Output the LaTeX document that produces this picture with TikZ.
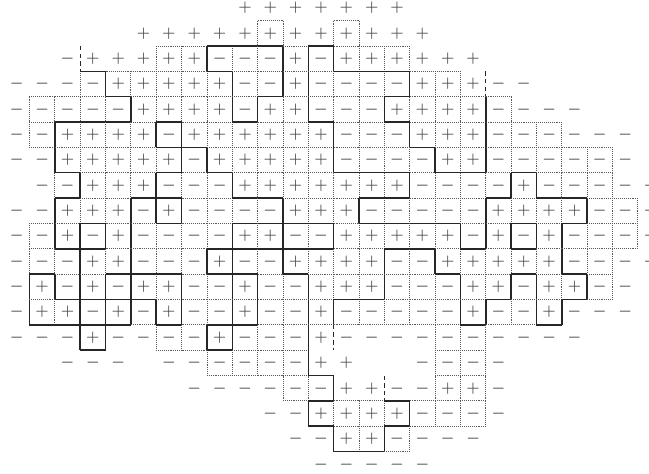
\documentclass[tikz,border=0pt]{standalone}
\makeatletter
% one string per row of cells: . empty, p/m plus/minus outside, P/M plus/minus inside
\def\gridrow#1#2{\count@=0 \def\gr@row{#1}\gr@next#2\@nil}
\def\gr@next#1{\ifx#1\@nil\else
  \expandafter\xdef\csname cell@\gr@row @\the\count@\endcsname{#1}%
  \advance\count@ 1 \expandafter\gr@next\fi}
\def\sg@P{1}\def\sg@p{1}\def\sg@M{2}\def\sg@m{2}
\expandafter\def\csname sg@.\endcsname{0}
\def\ac@P{1}\def\ac@M{1}\def\ac@p{0}\def\ac@m{0}
\expandafter\def\csname ac@.\endcsname{0}
\def\getcell#1#2#3{%
  \ifcsname cell@#1@#2\endcsname
    \edef\gc@c{\csname cell@#1@#2\endcsname}%
  \else\def\gc@c{.}\fi
  \expandafter\edef\csname sg#3\endcsname{\csname sg@\gc@c\endcsname}%
  \expandafter\edef\csname ac#3\endcsname{\csname ac@\gc@c\endcsname}}
% edge kind: 0 none, 1 bond, 2 wall, 3 cut
\def\edgekind#1#2#3{%
  \ifcsname ov@#1@#2@#3\endcsname
    \edef\ek{\csname ov@#1@#2@#3\endcsname}%
  \else
    \def\ek{0}%
    \ifnum\sgA>0 \ifnum\sgB>0 \ifnum\numexpr\acA+\acB\relax>0
      \ifnum\sgA=\sgB\def\ek{1}\else\def\ek{2}\fi
    \fi\fi\fi
  \fi}
\def\setedge#1#2#3#4{\expandafter\def\csname ov@#1@#2@#3\endcsname{#4}}
\makeatother

\gridrow{0}{.........ppppppp}
\gridrow{1}{.....pppppPppPppp}
\gridrow{2}{..mpppPPMMMPMPPPppp}
\gridrow{3}{mmmMPPPPPMMPMMMMPPpmm}
\gridrow{4}{mMMMMPPPPMPPMMMPPPPMmmm}
\gridrow{5}{mMPPPPMPPPPPPMMMPPPMMMmmm}
\gridrow{6}{mmPPPPPMPPPPPMMMMPPMMMMMm}
\gridrow{7}{.mMPPPMMMPPPPPPPMMMMPMMMmm}
\gridrow{8}{mmPPPMPMMMMPPPMMMMMPPPPMMm}
\gridrow{9}{mMPMPMMMMPPMMPPPPPMPMPMMMm}
\gridrow{10}{mMMPPMMMPMMPPPPMMPPPPPMMmm}
\gridrow{11}{mPMPMPPMMPMMPPPMMMPPMPPMm}
\gridrow{12}{mPPMPMPMMPMMPMMMMMPMMPmmm}
\gridrow{13}{mmmPmmMMPMMMpmmmmMMmmmm}
\gridrow{14}{..mmm.mmMMMMpp..mMMm}
\gridrow{15}{.......mmmmMMppmmPPm}
\gridrow{16}{..........mmPPPPMMMm}
\gridrow{17}{...........mmPPMmmm}
\gridrow{18}{............mmmmm}

% edges drawn otherwise than the rule gives
\setedge{V}{2}{3}{3}
\setedge{V}{3}{19}{3}
\setedge{V}{13}{13}{3}
\setedge{V}{15}{15}{3}
\setedge{H}{15}{17}{1}
\setedge{H}{15}{18}{1}
\setedge{H}{16}{17}{1}
\setedge{H}{16}{18}{1}
\setedge{V}{15}{17}{1}
\setedge{V}{15}{19}{1}

\begin{document}
\begin{tikzpicture}[x=0.7cm,y=0.7cm,
    sym/.style={inner sep=0pt,text=black!70,
      font=\fontsize{13}{15}\selectfont\boldmath},
    bond/.style={black!65,line width=0.6pt,dash pattern=on 0.7pt off 0.8pt},
    wall/.style={black!85,line width=1.2pt},
    cut/.style={black!85,line width=1pt,dash pattern=on 3.5pt off 2.5pt}]
  \clip (-0.663,-18.384) rectangle (24.94,0.314);
  \foreach \i in {0,...,18}{
    \foreach \j in {0,...,25}{
      \getcell{\i}{\j}{A}
      \ifcase\sgA\or
        \node[sym] (s-\i-\j) at (\j,-\i) {$+$};
      \or
        \node[sym] (s-\i-\j) at (\j,-\i) {$-$};
      \fi
      % left edge of the cell
      \getcell{\i}{\the\numexpr\j-1\relax}{B}
      \edgekind{V}{\i}{\j}
      \ifcase\ek\or
        \draw[bond] (\j-0.5,-\i+0.5) -- ++(0,-1);
      \or
        \draw[wall] (\j-0.5,-\i+0.5) -- ++(0,-1);
      \or
        \draw[cut] (\j-0.5,-\i+0.5) -- ++(0,-1);
      \fi
      % top edge of the cell
      \getcell{\the\numexpr\i-1\relax}{\j}{B}
      \edgekind{H}{\i}{\j}
      \ifcase\ek\or
        \draw[bond] (\j-0.5,-\i+0.5) -- ++(1,0);
      \or
        \draw[wall] (\j-0.5,-\i+0.5) -- ++(1,0);
      \or
        \draw[cut] (\j-0.5,-\i+0.5) -- ++(1,0);
      \fi
    }
  }
\end{tikzpicture}
\end{document}
